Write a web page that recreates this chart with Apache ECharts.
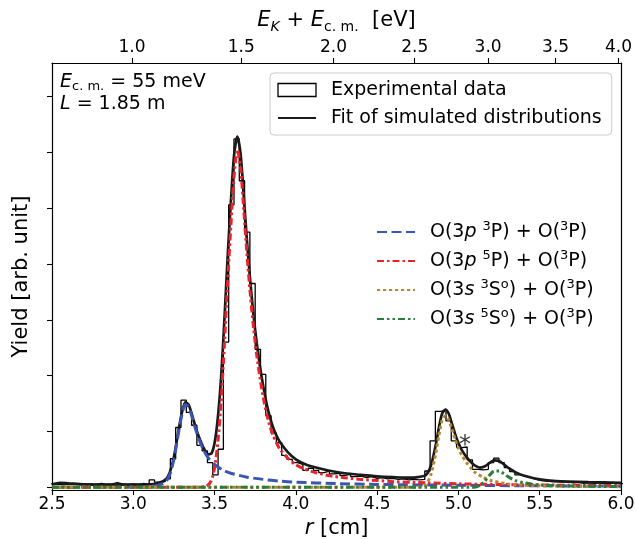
<!DOCTYPE html>
<html><head><meta charset="utf-8">
<script src="https://cdn.jsdelivr.net/npm/echarts@6/dist/echarts.min.js"></script>
<style>html,body{margin:0;padding:0;background:#fff}#c{width:636px;height:539px}</style>
</head><body><div id="c"></div>
<script>
// ---------------- data ----------------
const binStart = 2.4784;     // left edge of first histogram bin [cm]
const binWidth = 0.0326;     // histogram bin width [cm]
const histValues = [
 0.06,0.05,0.04,0.06,0.05,0.04,0.05,0.06,0.05,0.07,
 0.05,0.06,0.08,0.06,0.05,0.06,0.05,0.07,0.05,0.13,
 0.09,0.10,0.15,0.51,1.07,1.56,1.34,1.11,0.75,0.65,
 0.44,0.22,0.68,2.60,5.06,6.24,5.49,4.57,3.65,2.47,
 2.02,1.28,0.97,0.80,0.57,0.50,0.44,0.41,0.30,0.34,
 0.30,0.26,0.29,0.24,0.25,0.21,0.23,0.19,0.20,0.17,
 0.19,0.16,0.17,0.15,0.16,0.14,0.15,0.13,0.14,0.13,
 0.14,0.29,0.83,1.36,1.38,1.19,0.83,0.71,0.72,0.49,
 0.32,0.31,0.32,0.44,0.52,0.44,0.35,0.28,0.22,0.20,
 0.17,0.14,0.12,0.11,0.10,0.10,0.09,0.10,0.08,0.09,
 0.07,0.08,0.07,0.08,0.06,0.07,0.08,0.06,0.07
];
const fitTotal = [[2.5,0.05],[2.55,0.08],[2.6,0.07],[2.7,0.05],[2.8,0.045],[3.0,0.045],[3.1,0.05],[3.15,0.07],[3.2,0.14],[3.225,0.27],[3.25,0.54],[3.275,0.96],[3.3,1.35],[3.32,1.52],[3.34,1.48],[3.36,1.31],[3.38,1.11],[3.4,0.93],[3.43,0.72],[3.46,0.59],[3.48,0.6],[3.5,0.79],[3.52,1.24],[3.54,1.96],[3.56,2.97],[3.58,4.1],[3.6,5.1],[3.62,5.95],[3.64,6.28],[3.66,5.97],[3.68,5.2],[3.7,4.38],[3.72,3.68],[3.74,3.07],[3.76,2.57],[3.78,2.15],[3.8,1.8],[3.82,1.5],[3.84,1.26],[3.86,1.07],[3.88,0.93],[3.9,0.82],[3.95,0.63],[4.0,0.5],[4.05,0.42],[4.1,0.37],[4.2,0.3],[4.3,0.25],[4.4,0.22],[4.5,0.195],[4.6,0.18],[4.7,0.17],[4.75,0.18],[4.8,0.22],[4.83,0.38],[4.86,0.75],[4.88,1.07],[4.9,1.32],[4.92,1.39],[4.94,1.32],[4.96,1.14],[4.98,0.95],[5.0,0.79],[5.02,0.67],[5.05,0.54],[5.08,0.44],[5.1,0.39],[5.13,0.35],[5.16,0.37],[5.19,0.43],[5.22,0.48],[5.25,0.47],[5.28,0.41],[5.31,0.34],[5.35,0.27],[5.4,0.21],[5.5,0.14],[5.6,0.11],[5.8,0.09],[6.0,0.08]];
const comp3p3P = [[2.5,0],[3.05,0],[3.1,0.01],[3.15,0.03],[3.2,0.1],[3.225,0.23],[3.25,0.5],[3.275,0.92],[3.3,1.31],[3.32,1.48],[3.34,1.44],[3.36,1.27],[3.38,1.07],[3.4,0.89],[3.43,0.68],[3.46,0.53],[3.5,0.41],[3.55,0.31],[3.6,0.25],[3.7,0.18],[3.8,0.14],[3.9,0.11],[4.0,0.09],[4.25,0.065],[4.5,0.05],[5.0,0.035],[5.5,0.025],[6.0,0.02]];
const comp3p5P = [[2.5,0],[3.4,0],[3.45,0.02],[3.48,0.12],[3.5,0.35],[3.52,0.8],[3.54,1.52],[3.56,2.53],[3.58,3.65],[3.6,4.67],[3.62,5.58],[3.64,6.05],[3.66,5.73],[3.68,4.95],[3.7,4.15],[3.72,3.45],[3.74,2.85],[3.76,2.35],[3.78,1.95],[3.8,1.6],[3.82,1.32],[3.84,1.1],[3.86,0.93],[3.88,0.8],[3.9,0.69],[3.95,0.52],[4.0,0.4],[4.05,0.33],[4.1,0.28],[4.2,0.21],[4.3,0.17],[4.4,0.14],[4.5,0.12],[4.6,0.1],[4.8,0.08],[5.0,0.06],[5.5,0.04],[6.0,0.03]];
const comp3s3S = [[2.5,0],[4.75,0],[4.8,0.05],[4.83,0.22],[4.86,0.6],[4.88,0.93],[4.9,1.2],[4.92,1.28],[4.94,1.21],[4.96,1.04],[4.98,0.86],[5.0,0.7],[5.02,0.58],[5.05,0.44],[5.08,0.33],[5.1,0.27],[5.15,0.18],[5.2,0.12],[5.3,0.06],[5.4,0.035],[5.6,0.02],[6.0,0.01]];
const comp3s5S = [[2.5,0],[5.1,0],[5.13,0.03],[5.16,0.1],[5.19,0.21],[5.22,0.29],[5.25,0.29],[5.28,0.24],[5.31,0.18],[5.35,0.12],[5.4,0.08],[5.5,0.04],[5.7,0.02],[6.0,0.01]];
const asteriskPos = [[5.04, 0.74]];
const yTickValues = [0,1,2,3,4,5,6,7];
const topTickEnergies = [1.0,1.5,2.0,2.5,3.0,3.5,4.0];   // eV
const energyPerR2 = 0.1117;  // E = k * r^2  [eV/cm^2]

// ---------------- chart ----------------
const FONT = 'DejaVu Sans';
const C_BLUE = '#3a55b4', C_RED = '#e8232a', C_GOLD = '#b8862f', C_GREEN = '#2a7d3a';
const histLine = histValues.map((v,k)=>[binStart + k*binWidth, v]);
histLine.push([binStart + histValues.length*binWidth, histValues[histValues.length-1]]);
const topTickR = topTickEnergies.map(E => Math.sqrt(E/energyPerR2));

const richBase = {
  i: {fontStyle:'italic', fontFamily:FONT, fontSize:19, color:'#000', lineHeight:24},
  n: {fontFamily:FONT, fontSize:19, color:'#000', lineHeight:24},
  sup: {fontFamily:FONT, fontSize:13, color:'#000', lineHeight:13, verticalAlign:'top'},
  sub: {fontFamily:FONT, fontSize:13, color:'#000', lineHeight:13, verticalAlign:'bottom'}
};
const legendNames = {
  'O(3p 3P) + O(3P)': '{n|O(3}{i|p}{n| }{sup|3}{n|P) + O(}{sup|3}{n|P)}',
  'O(3p 5P) + O(3P)': '{n|O(3}{i|p}{n| }{sup|5}{n|P) + O(}{sup|3}{n|P)}',
  'O(3s 3So) + O(3P)': '{n|O(3}{i|s}{n| }{sup|3}{n|S}{sup|o}{n|) + O(}{sup|3}{n|P)}',
  'O(3s 5So) + O(3P)': '{n|O(3}{i|s}{n| }{sup|5}{n|S}{sup|o}{n|) + O(}{sup|3}{n|P)}'
};
const hideSym = {opacity:0, borderWidth:0};

const option = {
  animation:false,
  backgroundColor:'#fff',
  grid:{left:52, right:15, top:63, bottom:49, containLabel:false, outerBoundsMode:'none'},
  xAxis:[{
    type:'value', min:2.5, max:6.0, interval:0.5, position:'bottom',
    axisLine:{show:true, onZero:false, lineStyle:{color:'#000', width:1.2}},
    axisTick:{show:true, inside:false, length:5, lineStyle:{color:'#000', width:1.1}},
    axisLabel:{fontFamily:FONT, fontSize:17, color:'#000', margin:6, formatter:v=>v.toFixed(1)},
    splitLine:{show:false},
    name:'{i|r}{n| [cm]}', nameLocation:'middle', nameGap:25,
    nameTextStyle:{rich:{i:{fontStyle:'italic',fontFamily:FONT,fontSize:21,color:'#000'},n:{fontFamily:FONT,fontSize:21,color:'#000'}}}
  },{
    type:'value', min:2.5, max:6.0, position:'top',
    axisLine:{show:true, onZero:false, lineStyle:{color:'#000', width:1.2}},
    axisTick:{show:true, inside:false, length:5, customValues:topTickR, lineStyle:{color:'#000', width:1.1}},
    axisLabel:{fontFamily:FONT, fontSize:17, color:'#000', margin:7, customValues:topTickR,
      formatter:v=>(energyPerR2*v*v).toFixed(1)},
    splitLine:{show:false},
    name:'{i|E}{subi|K}{n| + }{i|E}{sub|c. m.}{n|  [eV]}', nameLocation:'middle', nameGap:29,
    nameTextStyle:{rich:{
      i:{fontStyle:'italic',fontFamily:FONT,fontSize:21,color:'#000',lineHeight:26},
      n:{fontFamily:FONT,fontSize:21,color:'#000',lineHeight:26},
      sub:{fontFamily:FONT,fontSize:14,color:'#000',lineHeight:14,verticalAlign:'bottom'},
      subi:{fontFamily:FONT,fontStyle:'italic',fontSize:14,color:'#000',lineHeight:14,verticalAlign:'bottom'}}}
  }],
  yAxis:[{
    type:'value', min:-0.05, max:7.6, position:'left',
    axisLine:{show:true, onZero:false, lineStyle:{color:'#000', width:1.2}},
    axisTick:{show:true, inside:false, length:5, customValues:yTickValues, lineStyle:{color:'#000', width:1.1}},
    axisLabel:{show:false}, splitLine:{show:false},
    name:'Yield [arb. unit]', nameLocation:'middle', nameGap:20,
    nameTextStyle:{fontFamily:FONT, fontSize:21, color:'#000'}
  },{
    type:'value', min:-0.05, max:7.6, position:'right',
    axisLine:{show:true, onZero:false, lineStyle:{color:'#000', width:1.2}},
    axisTick:{show:false}, axisLabel:{show:false}, splitLine:{show:false}
  }],
  legend:[{
    orient:'vertical', left:270, top:73, padding:[6,10,6,7],
    borderColor:'#cccccc', borderWidth:1, borderRadius:4, backgroundColor:'rgba(255,255,255,0.85)',
    itemWidth:38, itemHeight:13, itemGap:6,
    textStyle:{fontFamily:FONT, fontSize:19, color:'#000', lineHeight:22, padding:[0,0,0,10]},
    data:[
      {name:'Experimental data', icon:'rect', itemStyle:{color:'#fff', borderColor:'#000', borderWidth:1.3}},
      {name:'Fit of simulated distributions', itemStyle:hideSym}
    ]
  },{
    orient:'vertical', left:376, top:220, padding:0,
    itemWidth:38, itemHeight:13, itemGap:5,
    textStyle:{fontFamily:FONT, fontSize:19, color:'#000', lineHeight:22, padding:[0,0,0,10], rich:richBase},
    formatter:name=>legendNames[name] || name,
    data:Object.keys(legendNames).map(n=>({name:n, itemStyle:hideSym}))
  }],
  graphic:[{
    type:'text', left:60, top:73,
    style:{text:'{i|E}{sub|c. m.}{n| = 55 meV}\n{i|L}{n| = 1.85 m}', rich:{
      i:{fontStyle:'italic',fontFamily:FONT,fontSize:19,fill:'#000',lineHeight:22},
      n:{fontFamily:FONT,fontSize:19,fill:'#000',lineHeight:22},
      sub:{fontFamily:FONT,fontSize:13,fill:'#000',lineHeight:13,verticalAlign:'bottom'}}}
  }],
  series:[
    {name:'Experimental data', type:'line', step:'end', data:histLine, symbol:'none',
      lineStyle:{color:'#000', width:1.3}, itemStyle:{color:'#000'}, z:2},
    {name:'Fit of simulated distributions', type:'line', data:fitTotal, symbol:'none', smooth:0.25,
      lineStyle:{color:'#1a1a1a', width:2.7}, itemStyle:{color:'#1a1a1a'}, z:3},
    {name:'O(3p 3P) + O(3P)', type:'line', data:comp3p3P, symbol:'none', smooth:0.25,
      lineStyle:{color:C_BLUE, width:3, type:[10,4.5]}, itemStyle:{color:C_BLUE}, z:4},
    {name:'O(3p 5P) + O(3P)', type:'line', data:comp3p5P, symbol:'none', smooth:0.25,
      lineStyle:{color:C_RED, width:3, type:[7,3,2.5,3]}, itemStyle:{color:C_RED}, z:5},
    {name:'O(3s 3So) + O(3P)', type:'line', data:comp3s3S, symbol:'none', smooth:0.25,
      lineStyle:{color:C_GOLD, width:3, type:[3.2,2.8]}, itemStyle:{color:C_GOLD}, z:6},
    {name:'O(3s 5So) + O(3P)', type:'line', data:comp3s5S, symbol:'none', smooth:0.25,
      lineStyle:{color:C_GREEN, width:3, type:[7,3,2.5,3,2.5,3]}, itemStyle:{color:C_GREEN}, z:7},
    {name:'annotation', type:'scatter', data:asteriskPos, symbolSize:1, itemStyle:{color:'rgba(0,0,0,0)'},
      label:{show:true, position:'inside', formatter:'*', fontFamily:FONT, fontSize:24, color:'#000', textBorderWidth:0}, z:8}
  ]
};
const chart = echarts.init(document.getElementById('c'));
chart.setOption(option);
</script></body></html>
